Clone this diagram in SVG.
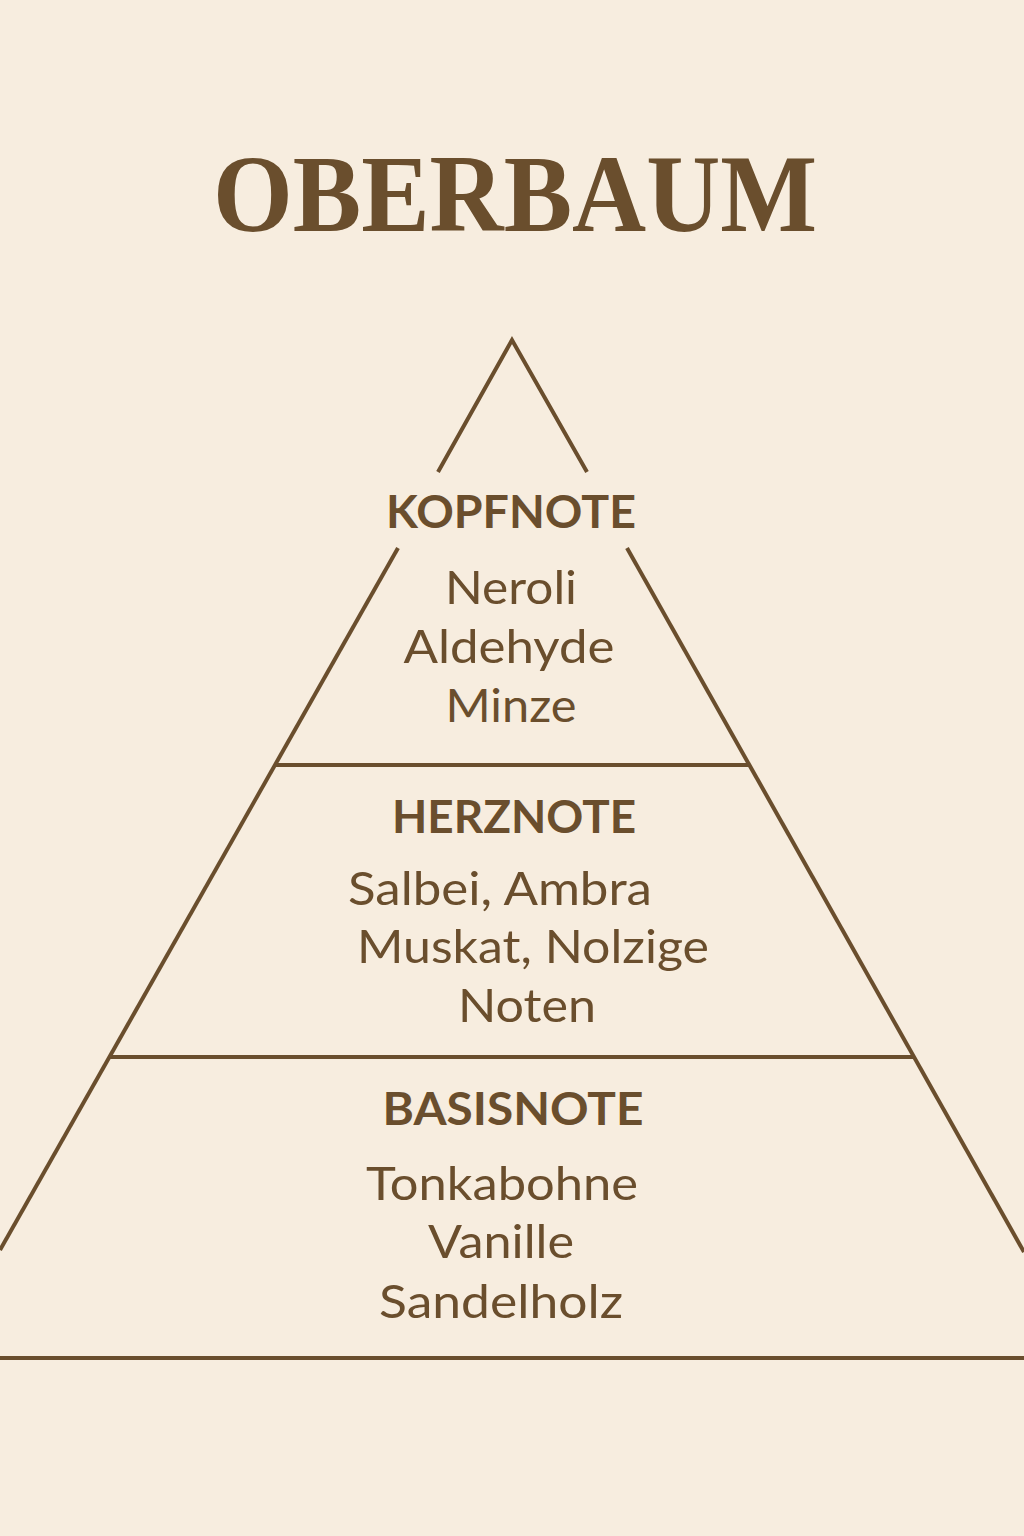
<svg xmlns="http://www.w3.org/2000/svg" width="1024" height="1536" viewBox="0 0 1024 1536">
  <style>
    .ln { stroke: #6A4E2D; stroke-width: 4; fill: none; stroke-linecap: butt; stroke-linejoin: miter; }
    .title { font-family: "Liberation Serif", "DejaVu Serif", serif; font-weight: bold; font-size: 110px; fill: #6A4E2D; }
    .head { font-family: Lato, "Noto Sans", sans-serif; font-weight: bold; font-size: 45px; fill: #6A4E2D; text-anchor: middle; }
    .body { font-family: Lato, "Noto Sans", sans-serif; font-size: 47px; fill: #6A4E2D; text-anchor: middle; }
  </style>
  <rect x="0" y="0" width="1024" height="1536" fill="#F7EDDF"/>

  <g id="title">
    <text class="title" x="515" y="231" text-anchor="middle" textLength="604" lengthAdjust="spacingAndGlyphs">OBERBAUM</text>
  </g>

  <g id="connectors">
    <polyline class="ln" points="438,472 512,340 587,472"/>
    <line class="ln" x1="398" y1="548" x2="0" y2="1250"/>
    <line class="ln" x1="627" y1="548" x2="1024" y2="1252"/>
    <line class="ln" x1="274" y1="765" x2="749" y2="765"/>
    <line class="ln" x1="109" y1="1057" x2="914" y2="1057"/>
    <line class="ln" x1="0" y1="1358" x2="1024" y2="1358"/>
  </g>

  <g id="kopfnote">
    <text class="head" x="511" y="528" textLength="250" lengthAdjust="spacingAndGlyphs">KOPFNOTE</text>
    <text class="body" x="511" y="604" textLength="132" lengthAdjust="spacingAndGlyphs">Neroli</text>
    <text class="body" x="509" y="663" textLength="211" lengthAdjust="spacingAndGlyphs">Aldehyde</text>
    <text class="body" x="511" y="722" textLength="131" lengthAdjust="spacingAndGlyphs">Minze</text>
  </g>

  <g id="herznote">
    <text class="head" x="514" y="833" textLength="244" lengthAdjust="spacingAndGlyphs">HERZNOTE</text>
    <text class="body" x="500" y="905" textLength="304" lengthAdjust="spacingAndGlyphs">Salbei, Ambra</text>
    <text class="body" x="533" y="963" textLength="352" lengthAdjust="spacingAndGlyphs">Muskat, Nolzige</text>
    <text class="body" x="527" y="1022" textLength="138" lengthAdjust="spacingAndGlyphs">Noten</text>
  </g>

  <g id="basisnote">
    <text class="head" x="513" y="1125" textLength="261" lengthAdjust="spacingAndGlyphs">BASISNOTE</text>
    <text class="body" x="502" y="1200" textLength="272" lengthAdjust="spacingAndGlyphs">Tonkabohne</text>
    <text class="body" x="501" y="1258" textLength="146" lengthAdjust="spacingAndGlyphs">Vanille</text>
    <text class="body" x="501" y="1318" textLength="244" lengthAdjust="spacingAndGlyphs">Sandelholz</text>
  </g>
</svg>
